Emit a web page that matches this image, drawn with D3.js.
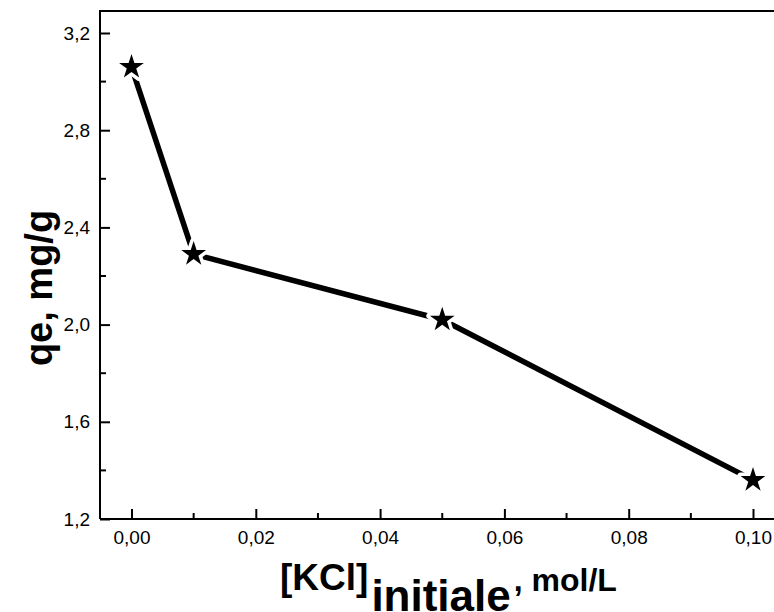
<!DOCTYPE html>
<html>
<head>
<meta charset="utf-8">
<script src="https://cdn.jsdelivr.net/npm/d3@7/dist/d3.min.js"></script>
<style>
  html, body { margin: 0; padding: 0; background: #fff; }
  svg { display: block; font-family: Arial, "Liberation Sans", sans-serif; }
</style>
</head>
<body>
<svg id="chart" width="774" height="612"></svg>
<script>
// KCl initial concentration (mol/L) and adsorbed amount qe (mg/g)
const kcl = [0.00, 0.01, 0.05, 0.10];
const qe = [3.06, 2.29, 2.02, 1.36];

const xTicks = [0.00, 0.02, 0.04, 0.06, 0.08, 0.10];
const yTicks = [1.2, 1.6, 2.0, 2.4, 2.8, 3.2];
const xMinor = [0.01, 0.03, 0.05, 0.07, 0.09];
const yMinor = [1.4, 1.8, 2.2, 2.6, 3.0];

const svg = d3.select("#chart");
const frameL = 100, frameT = 11, frameB = 519, frameR = 790;
const tickFont = "19px Arial, 'Liberation Sans', sans-serif";

const x = d3.scaleLinear().domain([0, 0.10]).range([131.5, 753]);
const y = d3.scaleLinear().domain([1.2, 3.2]).range([frameB, 33]);

const fmtX = d => d3.format(".2f")(d).replace(".", ",");
const fmtY = d => d3.format(".1f")(d).replace(".", ",");

// frame: left, top and bottom edges
svg.append("path")
  .attr("d", `M${frameL},${frameB}V${frameT}H${frameR}`)
  .attr("fill", "none").attr("stroke", "#000").attr("stroke-width", 2);

// bottom axis, ticks pointing inward
const xAxis = svg.append("g").attr("transform", `translate(0,${frameB})`)
  .call(d3.axisBottom(x).tickValues(xTicks).tickSizeInner(-10).tickSizeOuter(0).tickPadding(12).tickFormat(fmtX));
xAxis.select(".domain").attr("d", `M${frameL},0H${frameR}`).attr("stroke-width", 2);
xAxis.selectAll(".tick line").attr("stroke-width", 2);
xAxis.selectAll(".tick text").style("font", tickFont).attr("fill", "#000");
xAxis.selectAll(".minor").data(xMinor).enter().append("line")
  .attr("x1", d => x(d)).attr("x2", d => x(d)).attr("y1", 0).attr("y2", -6)
  .attr("stroke", "#000").attr("stroke-width", 2);

// left axis, ticks pointing inward
const yAxis = svg.append("g").attr("transform", `translate(${frameL},0)`)
  .call(d3.axisLeft(y).tickValues(yTicks).tickSizeInner(-10).tickSizeOuter(0).tickPadding(10).tickFormat(fmtY));
yAxis.select(".domain").remove();
yAxis.selectAll(".tick line").attr("stroke-width", 2);
yAxis.selectAll(".tick text").style("font", tickFont).attr("fill", "#000");
yAxis.selectAll(".minor").data(yMinor).enter().append("line")
  .attr("y1", d => y(d)).attr("y2", d => y(d)).attr("x1", 0).attr("x2", 6)
  .attr("stroke", "#000").attr("stroke-width", 2);

// data line
const line = d3.line().x((d, i) => x(kcl[i])).y(d => y(d));
svg.append("path").datum(qe)
  .attr("d", line)
  .attr("fill", "none").attr("stroke", "#000").attr("stroke-width", 5.5)
  .attr("stroke-linejoin", "round");

// star markers with a white halo
const star = d3.symbol().type(d3.symbolStar).size(190);
svg.selectAll(".pt").data(qe).enter().append("path")
  .attr("transform", (d, i) => `translate(${x(kcl[i])},${y(d)})`)
  .attr("d", star)
  .attr("fill", "#000").attr("stroke", "#fff").attr("stroke-width", 7)
  .attr("stroke-linejoin", "round").style("paint-order", "stroke");

// axis titles
svg.append("text")
  .attr("transform", "translate(52,288) rotate(-90)")
  .attr("text-anchor", "middle")
  .attr("font-size", 38).attr("font-weight", "bold")
  .text("qe, mg/g");

const xt = svg.append("text")
  .attr("x", 280).attr("y", 590)
  .attr("font-weight", "bold");
xt.append("tspan").attr("font-size", 37).text("[KCl]");
xt.append("tspan").attr("font-size", 44).attr("dx", 3).attr("dy", 21).text("initiale");
xt.append("tspan").attr("font-size", 32).attr("dx", 3).attr("dy", -20).text(", mol/L");
</script>
</body>
</html>
